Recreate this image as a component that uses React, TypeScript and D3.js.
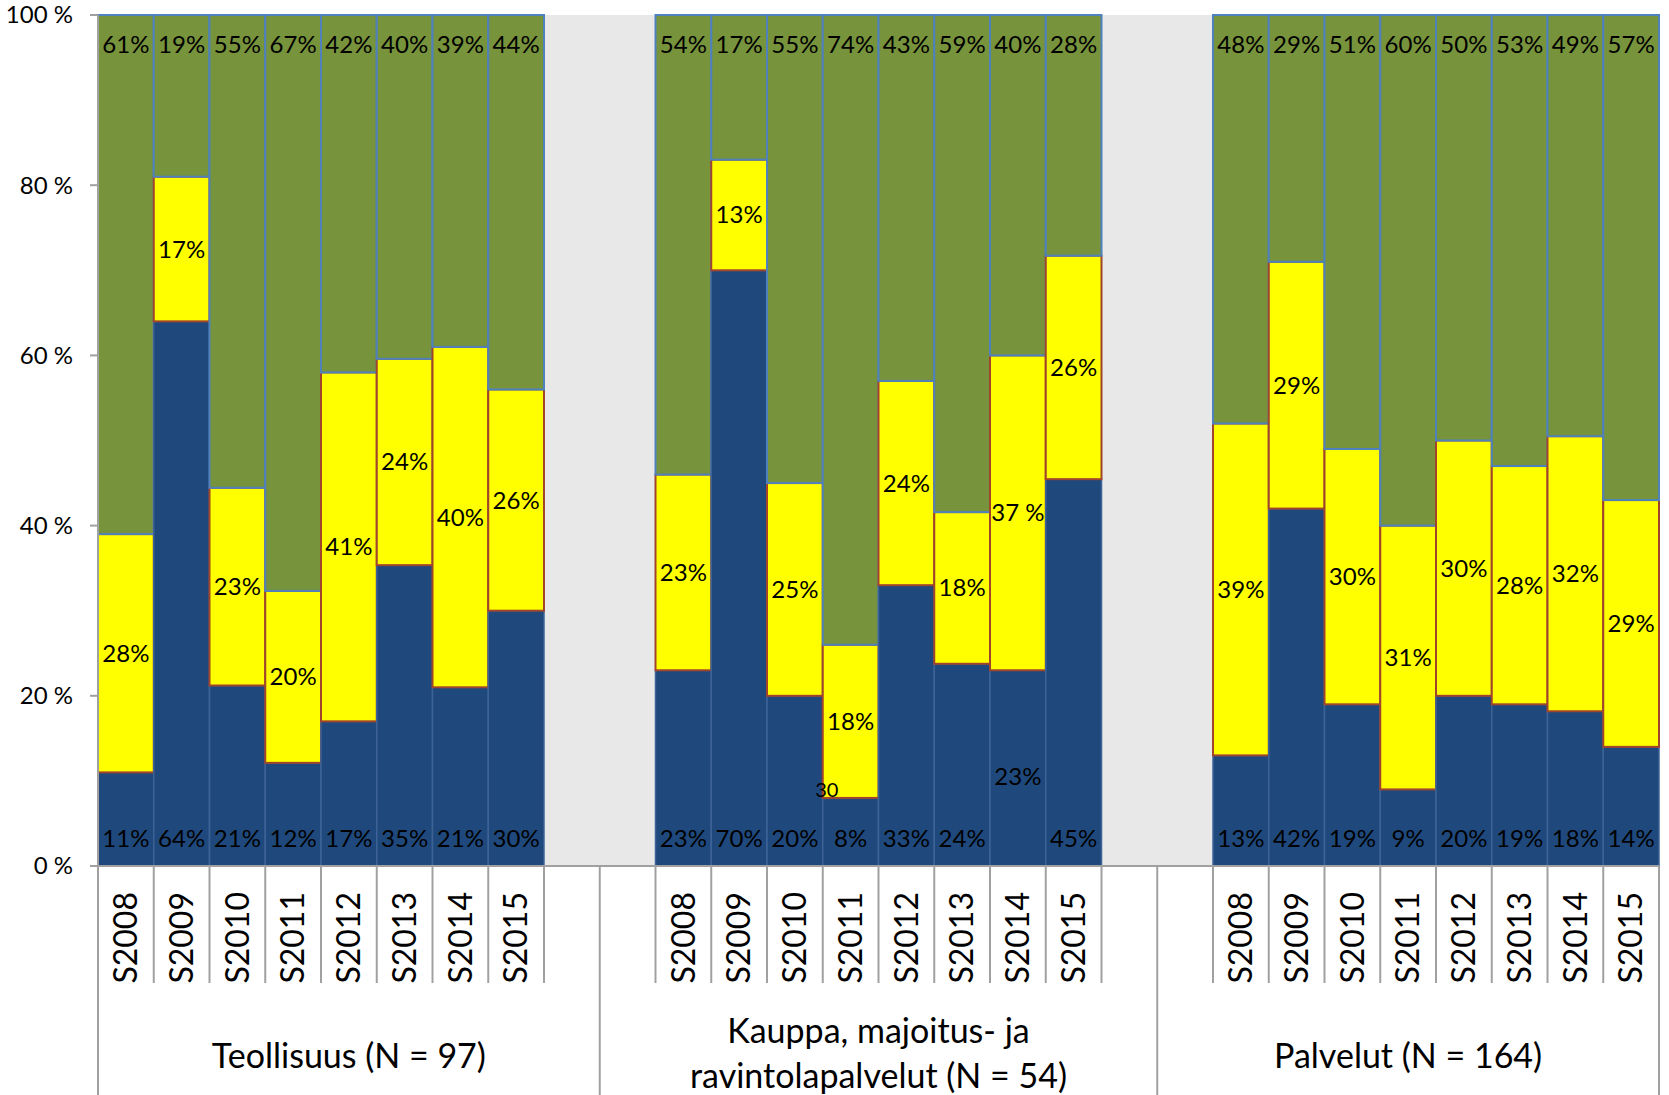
import React from 'react';
import * as d3 from 'd3';

const categories = ['S2008', 'S2009', 'S2010', 'S2011', 'S2012', 'S2013', 'S2014', 'S2015'];
const groupNames: string[][] = [
  ['Teollisuus (N = 97)'],
  ['Kauppa, majoitus- ja', 'ravintolapalvelut (N = 54)'],
  ['Palvelut (N = 164)'],
];
const blueValues = [
  [11, 64, 21, 12, 17, 35, 21, 30],
  [23, 70, 20, 8, 33, 24, 23, 45],
  [13, 42, 19, 9, 20, 19, 18, 14],
];
const yellowValues = [
  [28, 17, 23, 20, 41, 24, 40, 26],
  [23, 13, 25, 18, 24, 18, 37, 26],
  [39, 29, 30, 31, 30, 28, 32, 29],
];
const greenValues = [
  [61, 19, 55, 67, 42, 40, 39, 44],
  [54, 17, 55, 74, 43, 59, 40, 28],
  [48, 29, 51, 60, 50, 53, 49, 57],
];
const yTicks = [0, 20, 40, 60, 80, 100];
// label text overrides / odd labels as in the source
const labelTextOverrides = [{ group: 1, index: 6, series: 'yellow', text: '37 %' }];
const centeredBlueLabels = [{ group: 1, index: 6 }];
const strayLabels = [{ group: 1, index: 3, text: '30', atValue: 8 }];

const W = 1669;
const H = 1095;
const FONT = 'Lato, "Open Sans", sans-serif';

const COLORS = {
  blue: '#1f497d',
  blueStroke: '#3d6396',
  yellow: '#ffff00',
  yellowStroke: '#a0452c',
  green: '#77933c',
  greenStroke: '#4f81bd',
  axis: '#a0a0a0',
  plotBg: '#e8e8e8',
};

type Slot = { key: string; group: number; index: number | null };
const slots: Slot[] = [];
categories.forEach((c, i) => slots.push({ key: `g0-${c}`, group: 0, index: i }));
slots.push({ key: 'gap0a', group: 0, index: null });
slots.push({ key: 'gap0b', group: 1, index: null });
categories.forEach((c, i) => slots.push({ key: `g1-${c}`, group: 1, index: i }));
slots.push({ key: 'gap1a', group: 1, index: null });
slots.push({ key: 'gap1b', group: 2, index: null });
categories.forEach((c, i) => slots.push({ key: `g2-${c}`, group: 2, index: i }));

export default function App() {
  const left = 98;
  const right = 1659;
  const top = 15;
  const bottom = 866;

  const x = d3.scaleBand<string>().domain(slots.map((s) => s.key)).range([left, right]).padding(0);
  const y = d3.scaleLinear().domain([0, 100]).range([bottom, top]);
  const bw = x.bandwidth();

  const bars = slots
    .filter((s) => s.index !== null)
    .map((s) => {
      const g = s.group;
      const i = s.index as number;
      const rows = [{ blue: blueValues[g][i], yellow: yellowValues[g][i], green: greenValues[g][i] }];
      const stacked = d3
        .stack<any>()
        .keys(['blue', 'yellow', 'green'])
        .offset(d3.stackOffsetExpand)(rows);
      return {
        slot: s,
        x0: x(s.key) as number,
        segs: stacked.map((series) => ({
          key: series.key as 'blue' | 'yellow' | 'green',
          y0: series[0][0] * 100,
          y1: series[0][1] * 100,
          value: rows[0][series.key as 'blue' | 'yellow' | 'green'],
        })),
      };
    });

  const groupSpans = [0, 1, 2].map((g) => {
    const gs = slots.filter((s) => s.group === g);
    const a = x(gs[0].key) as number;
    const b = (x(gs[gs.length - 1].key) as number) + bw;
    return { g, a, b };
  });
  const longLines = Array.from(new Set(groupSpans.flatMap((s) => [s.a, s.b])));
  const shortLines = slots
    .map((s) => x(s.key) as number)
    .concat([right])
    .filter((v) => !longLines.some((l) => Math.abs(l - v) < 0.5));

  const dataLabelSize = 24;

  return (
    <svg
      width={W}
      height={H}
      style={{ position: 'absolute', left: 0, top: 0, display: 'block', background: '#fff' }}
      fontFamily={FONT}
    >
      <rect x={left} y={top} width={right - left} height={bottom - top} fill={COLORS.plotBg} />

      {bars.map((b) =>
        b.segs.map((s) => (
          <rect
            key={b.slot.key + s.key}
            x={b.x0}
            y={y(s.y1)}
            width={bw}
            height={y(s.y0) - y(s.y1)}
            fill={COLORS[s.key]}
            stroke={COLORS[(s.key + 'Stroke') as 'blueStroke']}
            strokeWidth={s.key === 'blue' ? 1.5 : 2}
          />
        ))
      )}

      {bars.map((b) =>
        b.segs.map((s) => {
          const g = b.slot.group;
          const i = b.slot.index as number;
          const cx = b.x0 + bw / 2;
          let yy: number;
          if (s.key === 'blue') {
            yy = centeredBlueLabels.some((c) => c.group === g && c.index === i)
              ? y(10.5) + 8.5
              : bottom - 19;
          } else if (s.key === 'yellow') {
            yy = (y(s.y0) + y(s.y1)) / 2 + 8.5;
          } else {
            yy = top + 38;
          }
          const ov = labelTextOverrides.find((o) => o.group === g && o.index === i && o.series === s.key);
          const text = ov ? ov.text : `${s.value}%`;
          return (
            <text key={'l' + b.slot.key + s.key} x={cx} y={yy} textAnchor="middle" fontSize={dataLabelSize} fill="#000">
              {text}
            </text>
          );
        })
      )}
      {strayLabels.map((l) => {
        const bar = bars.find((b) => b.slot.group === l.group && b.slot.index === l.index)!;
        return (
          <text key={'s' + l.text} x={bar.x0 + 4} y={y(l.atValue) - 1} textAnchor="middle" fontSize={20} fill="#000">
            {l.text}
          </text>
        );
      })}

      <line x1={left} x2={left} y1={top} y2={bottom} stroke={COLORS.axis} strokeWidth={2} />
      {yTicks.map((t) => (
        <g key={'yt' + t}>
          <line x1={left - 8} x2={left} y1={y(t)} y2={y(t)} stroke={COLORS.axis} strokeWidth={2} />
          <text x={73} y={y(t)} dy="0.35em" textAnchor="end" fontSize={24} fill="#000">
            {`${t} %`}
          </text>
        </g>
      ))}

      <line x1={left - 8} x2={right} y1={bottom} y2={bottom} stroke={COLORS.axis} strokeWidth={2} />
      {shortLines.map((v, k) => (
        <line key={'sl' + k} x1={v} x2={v} y1={bottom} y2={983} stroke={COLORS.axis} strokeWidth={2} />
      ))}
      {longLines.map((v, k) => (
        <line key={'ll' + k} x1={v} x2={v} y1={bottom} y2={H} stroke={COLORS.axis} strokeWidth={2} />
      ))}
      {bars.map((b) => (
        <text
          key={'c' + b.slot.key}
          transform={`translate(${b.x0 + bw / 2},${892}) rotate(-90)`}
          dy="0.35em"
          textAnchor="end"
          fontSize={32}
          fill="#000"
        >
          {categories[b.slot.index as number]}
        </text>
      ))}
      {groupSpans.map((s) => {
        const lines = groupNames[s.g];
        const cx = (s.a + s.b) / 2;
        const baseY = lines.length === 1 ? 1068 : 1043;
        return (
          <text key={'g' + s.g} x={cx} textAnchor="middle" fontSize={34} fill="#000">
            {lines.map((ln, k) => (
              <tspan key={k} x={cx} y={baseY + k * 45}>
                {ln}
              </tspan>
            ))}
          </text>
        );
      })}
    </svg>
  );
}
